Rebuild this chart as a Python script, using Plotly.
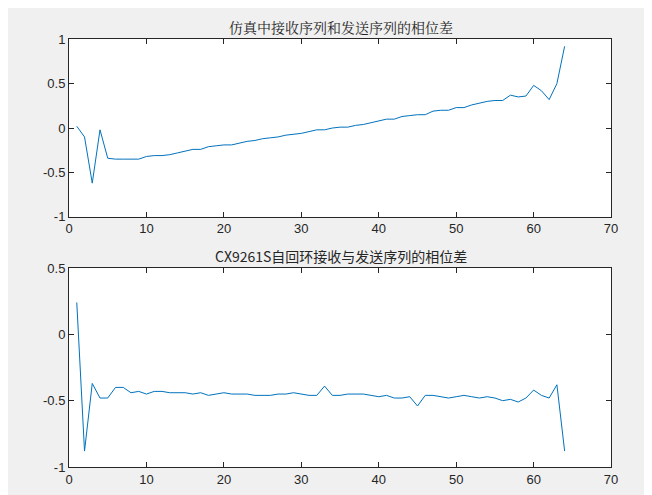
import plotly.graph_objects as go
from plotly.subplots import make_subplots

x = list(range(1, 65))

sim_phase = [
    0.02, -0.1, -0.62, -0.02, -0.34, -0.35, -0.35, -0.35, -0.35, -0.32,
    -0.31, -0.31, -0.3, -0.28, -0.26, -0.24, -0.24, -0.21, -0.2, -0.19,
    -0.19, -0.17, -0.15, -0.14, -0.12, -0.11, -0.1, -0.08, -0.07, -0.06,
    -0.04, -0.02, -0.02, 0.0, 0.01, 0.01, 0.03, 0.04, 0.06, 0.08,
    0.1, 0.1, 0.13, 0.14, 0.15, 0.15, 0.19, 0.2, 0.2, 0.23,
    0.23, 0.26, 0.28, 0.3, 0.31, 0.31, 0.37, 0.35, 0.36, 0.48,
    0.42, 0.32, 0.5, 0.92,
]

loop_phase = [
    0.24, -0.88, -0.37, -0.48, -0.48, -0.4, -0.4, -0.44, -0.43, -0.45,
    -0.43, -0.43, -0.44, -0.44, -0.44, -0.45, -0.44, -0.46, -0.45, -0.44,
    -0.45, -0.45, -0.45, -0.46, -0.46, -0.46, -0.45, -0.45, -0.44, -0.45,
    -0.46, -0.46, -0.39, -0.46, -0.46, -0.45, -0.45, -0.45, -0.46, -0.47,
    -0.46, -0.48, -0.48, -0.47, -0.54, -0.46, -0.46, -0.47, -0.48, -0.47,
    -0.46, -0.47, -0.48, -0.47, -0.48, -0.5, -0.49, -0.51, -0.48, -0.42,
    -0.46, -0.48, -0.38, -0.88,
]

titles = ["仿真中接收序列和发送序列的相位差", "CX9261S自回环接收与发送序列的相位差"]

fig = make_subplots(rows=2, cols=1)
fig.add_trace(go.Scatter(x=x, y=sim_phase, mode="lines",
                         line=dict(color="#0072BD", width=1)), row=1, col=1)
fig.add_trace(go.Scatter(x=x, y=loop_phase, mode="lines",
                         line=dict(color="#0072BD", width=1)), row=2, col=1)

axis_style = dict(showline=True, mirror="ticks", linecolor="#262626", linewidth=1,
                  ticks="inside", ticklen=5, tickcolor="#262626", showgrid=False,
                  zeroline=False, automargin=False,
                  tickfont=dict(size=13, color="#262626", family="Liberation Sans"))
fig.update_xaxes(range=[0, 70], dtick=10, domain=[0.0936, 0.925], **axis_style)
fig.update_yaxes(**axis_style)
fig.update_yaxes(range=[-1, 1], tickvals=[-1, -0.5, 0, 0.5, 1],
                 ticktext=["-1", "-0.5", "0", "0.5", "1"],
                 domain=[0.578, 0.937], row=1, col=1)
fig.update_yaxes(range=[-1, 0.5], tickvals=[-1, -0.5, 0, 0.5],
                 ticktext=["-1", "-0.5", "0", "0.5"],
                 domain=[0.0727, 0.4747], row=2, col=1)

fig.update_layout(
    width=652, height=495, showlegend=False,
    paper_bgcolor="#F0F0F0", plot_bgcolor="white",
    margin=dict(l=0, r=0, t=0, b=0, autoexpand=False),
    annotations=[
        dict(text=titles[0], x=0.51, y=0.937, xref="paper", yref="paper",
             yanchor="bottom", showarrow=False,
             font=dict(size=14, family="Noto Serif CJK SC, Noto Sans CJK SC", color="#262626")),
        dict(text=titles[1], x=0.51, y=0.4747, xref="paper", yref="paper",
             yanchor="bottom", showarrow=False,
             font=dict(size=14, family="Noto Sans CJK SC", color="#262626")),
    ],
)

fig.write_html("out.html")
